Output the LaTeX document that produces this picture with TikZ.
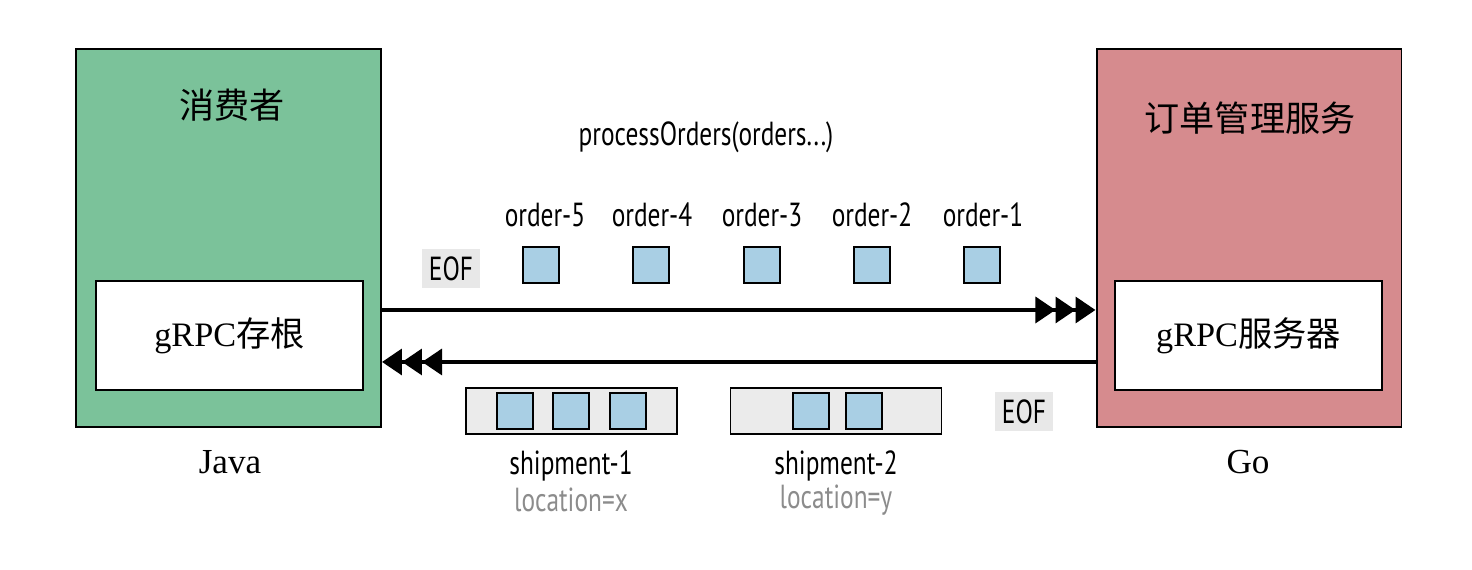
\documentclass[tikz,border=0pt]{standalone}
\usepackage{fontspec}
\setmainfont{Liberation Serif}
\newfontfamily\cjk{Noto Sans CJK SC}
\newfontfamily\lbl[FakeStretch=0.76]{PT Sans}
\usetikzlibrary{arrows.meta}
\usetikzlibrary{positioning}

\definecolor{consgreen}{HTML}{7BC29A}
\definecolor{srvred}{HTML}{D68B8E}
\definecolor{msgblue}{HTML}{A9CFE4}
\definecolor{shipgray}{HTML}{EBEBEB}
\definecolor{eofgray}{HTML}{E8E8E8}
\definecolor{locgray}{HTML}{8C8C8C}

\begin{document}
\begin{tikzpicture}[x=0.02cm,y=-0.02cm,
outerbox/.style={draw=black,line width=1.1pt,minimum width=6.1cm,minimum height=7.56cm,inner sep=0pt},
innerbox/.style={draw=black,line width=1.1pt,fill=white,minimum width=5.34cm,minimum height=2.18cm,inner sep=0pt},
msg/.style={draw=black,line width=1.1pt,fill=msgblue,minimum size=0.71cm,inner sep=0pt},
shipbox/.style={draw=black,line width=1.1pt,fill=shipgray,minimum width=4.22cm,minimum height=0.92cm,inner sep=0pt},
eof/.style={fill=eofgray,minimum width=1.16cm,minimum height=0.78cm,inner sep=0pt,font=\lbl\fontsize{19}{21}\selectfont},
lab/.style={inner sep=0pt,font=\lbl\fontsize{19}{21}\selectfont},
stream/.style={line width=2.8pt,-{Triangle[length=11.4pt,width=14.5pt,sep=0pt]Triangle[length=11.4pt,width=14.5pt,sep=0pt]Triangle[length=11.4pt,width=14.5pt]}}]
\useasboundingbox(0,0)rectangle(1472,570);
%% client side
\node[outerbox,fill=consgreen](C)at(228.5,238){};
\node[innerbox](CS)at(229.5,335.5){\fontsize{19.5}{21}\selectfont gRPC{\cjk 存根}};
\node[inner sep=0pt,font=\cjk\fontsize{20}{22}\selectfont](CT)at(232,105){消费者};
\node[inner sep=0pt,font=\fontsize{20}{22}\selectfont](CL)at(230,462){Java};
%% server side
\node[outerbox,fill=srvred](S)at(1249,238){};
\node[innerbox](SS)at(1248.5,335.5){\fontsize{19.5}{21}\selectfont gRPC{\cjk 服务器}};
\node[inner sep=0pt,font=\cjk\fontsize{20}{22}\selectfont](ST)at(1250,118){订单管理服务};
\node[inner sep=0pt,font=\fontsize{20}{22}\selectfont](SL)at(1248,462){Go};
%% request stream
\node[lab](P)at(706,137){processOrders(orders...)};
\node[lab](O5)at(545,215){order-5};
\node[lab](O4)at(652,215){order-4};
\node[lab](O3)at(762,215){order-3};
\node[lab](O2)at(872,215){order-2};
\node[lab](O1)at(983,215){order-1};
\node[msg](M5)at(541,265){};
\node[msg](M4)at(651,265){};
\node[msg](M3)at(762,265){};
\node[msg](M2)at(872,265){};
\node[msg](M1)at(982,265){};
\node[eof](E1)at(451,269){EOF};
\draw[stream]([yshift=-1.44cm]C.east)--([yshift=-1.44cm]S.west);
%% response stream
\draw[stream]([yshift=-2.48cm]S.west)--([yshift=-2.48cm]C.east);
\node[shipbox](B1)at(571.5,411){};
\node[msg](R1)at(515,411){};
\node[msg](R2)at(571,411){};
\node[msg](R3)at(628,411){};
\node[shipbox](B2)at(836,411){};
\node[msg](R4)at(811,411){};
\node[msg](R5)at(864,411){};
\node[eof](E2)at(1024,412){EOF};
\node[lab](SH1)at(571,466){shipment-1};
\node[lab,text=locgray](LX)at(571,500){location=x};
\node[lab](SH2)at(836,466){shipment-2};
\node[lab,text=locgray](LY)at(836,500){location=y};
\end{tikzpicture}
\end{document}
